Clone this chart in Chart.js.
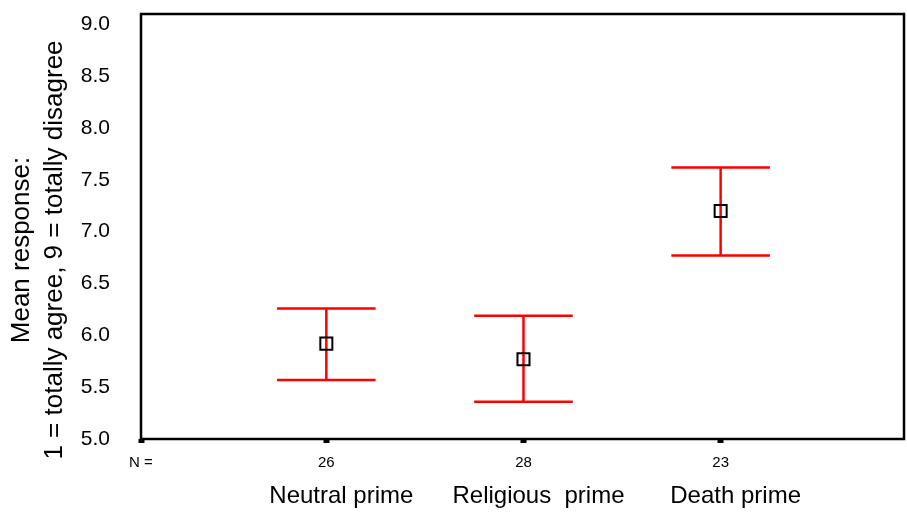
<!DOCTYPE html>
<html>
<head>
<meta charset="utf-8">
<title>Mean response by prime</title>
<script src="https://cdn.jsdelivr.net/npm/chart.js@4.4.1/dist/chart.umd.min.js"></script>
<style>
  html, body { margin: 0; padding: 0; background: #fff; }
  #wrap { width: 907px; height: 519px; }
</style>
</head>
<body>
<div id="wrap"><canvas id="meanChart"></canvas></div>
<script>
// =======================================
// DATA
// =======================================
const categories = ["Neutral prime", "Religious  prime", "Death prime"];
const groupN = [26, 28, 23];
const means = [5.92, 5.77, 7.2];
const upper = [6.26, 6.19, 7.62];
const lower = [5.57, 5.36, 6.77];
const yTicks = [5.0, 5.5, 6.0, 6.5, 7.0, 7.5, 8.0, 8.5, 9.0];
const yTitle = ["Mean response:", "1 = totally agree, 9 = totally disagree"];

// =======================================
// SETTINGS
// =======================================
const FONT = "'Liberation Sans', Arial, sans-serif";
const X_MIN = 0.06;
const X_MAX = 3.93;
const CAP = 0.25; // half width of the error bar caps, in x units

// =======================================
// PLUGINS
// =======================================
const errorBars = {
  id: "errorBars",
  beforeDatasetsDraw(chart) {
    const { ctx, scales } = chart;
    ctx.save();
    ctx.strokeStyle = "#ff0000";
    ctx.lineWidth = 2.5;
    means.forEach((m, i) => {
      const x = scales.x.getPixelForValue(i + 1);
      const x0 = scales.x.getPixelForValue(i + 1 - CAP);
      const x1 = scales.x.getPixelForValue(i + 1 + CAP);
      const yU = scales.y.getPixelForValue(upper[i]);
      const yL = scales.y.getPixelForValue(lower[i]);
      ctx.beginPath();
      ctx.moveTo(x, yU);
      ctx.lineTo(x, yL);
      ctx.moveTo(x0, yU);
      ctx.lineTo(x1, yU);
      ctx.moveTo(x0, yL);
      ctx.lineTo(x1, yL);
      ctx.stroke();
    });
    ctx.restore();
  },
};

const frameAndText = {
  id: "frameAndText",
  afterDraw(chart) {
    const { ctx, chartArea: a, scales } = chart;
    ctx.save();

    // plot frame
    ctx.strokeStyle = "#000";
    ctx.lineWidth = 2.5;
    ctx.strokeRect(a.left, a.top, a.right - a.left, a.bottom - a.top);

    // category names under the N counts
    ctx.fillStyle = "#000";
    ctx.font = "24px " + FONT;
    ctx.textAlign = "center";
    ctx.textBaseline = "middle";
    categories.forEach((c, i) => {
      ctx.fillText(c, scales.x.getPixelForValue(i + 1) + 15, 496);
    });

    // rotated y title, two lines
    ctx.font = "26px " + FONT;
    ctx.translate(0, 250);
    ctx.rotate(-Math.PI / 2);
    ctx.fillText(yTitle[0], 0, 22);
    ctx.fillText(yTitle[1], 0, 55);
    ctx.restore();
  },
};

// =======================================
// CHART
// =======================================
new Chart(document.getElementById("meanChart"), {
  type: "scatter",
  data: {
    datasets: [
      {
        data: means.map((m, i) => ({ x: i + 1, y: m })),
        pointStyle: "rect",
        pointRadius: 8.5,
        pointHoverRadius: 8.5,
        borderColor: "#000",
        backgroundColor: "rgba(0,0,0,0)",
        borderWidth: 2,
        showLine: false,
      },
    ],
  },
  options: {
    responsive: true,
    maintainAspectRatio: false,
    animation: false,
    layout: { autoPadding: false, padding: { top: 14, right: 3, left: 0, bottom: 0 } },
    plugins: { legend: { display: false }, tooltip: { enabled: false } },
    scales: {
      x: {
        type: "linear",
        min: X_MIN,
        max: X_MAX,
        afterBuildTicks: (s) => {
          s.ticks = [X_MIN, 1, 2, 3].map((v) => ({ value: v }));
        },
        afterFit: (s) => {
          s.height = 80;
          s.paddingLeft = 0;
          s.paddingRight = 0;
        },
        border: { display: false },
        grid: {
          drawOnChartArea: false,
          drawTicks: true,
          tickLength: 4,
          tickWidth: 6,
          tickColor: "#000",
        },
        ticks: {
          autoSkip: false,
          maxRotation: 0,
          padding: 11,
          color: "#000",
          font: { family: FONT, size: 15 },
          callback: (v, i) => (i === 0 ? "N =" : String(groupN[i - 1])),
        },
      },
      y: {
        min: 5,
        max: 9.1,
        afterBuildTicks: (s) => {
          s.ticks = yTicks.map((v) => ({ value: v }));
        },
        afterFit: (s) => {
          s.width = 141;
          s.paddingTop = 0;
          s.paddingBottom = 0;
        },
        border: { display: false },
        grid: { display: false, drawTicks: false },
        ticks: {
          padding: 31,
          color: "#000",
          font: { family: FONT, size: 21 },
          callback: (v) => Number(v).toFixed(1),
        },
      },
    },
  },
  plugins: [errorBars, frameAndText],
});
</script>
</body>
</html>
